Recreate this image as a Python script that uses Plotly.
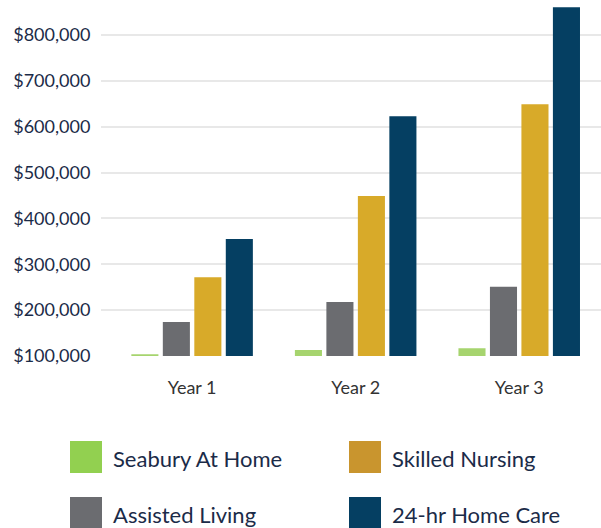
import plotly.graph_objects as go

categories = ["Year 1", "Year 2", "Year 3"]
series_names = ["Seabury At Home", "Assisted Living", "Skilled Nursing", "24-hr Home Care"]
seabury = [104000, 113000, 117000]
assisted = [174000, 218000, 251000]
skilled = [272000, 449000, 649000]
home_care = [355000, 623000, 861000]
series_values = [seabury, assisted, skilled, home_care]
bar_colors = ["#a6d46e", "#6b6c70", "#d8aa29", "#053f62"]
legend_colors = ["#92d050", "#6b6c70", "#c9952e", "#053f62"]

W, H = 601, 528
PL, PR, PT, PB = 101, 601, 3, 356  # plot area in px

fig = go.Figure()
for name, vals, col in zip(series_names, series_values, bar_colors):
    fig.add_trace(go.Bar(x=categories, y=vals, name=name, marker_color=col,
                         marker_line_width=0, showlegend=False))

def px_x(x):
    return (x - PL) / (PR - PL)

def px_y(y):
    return (PB - y) / (PB - PT)

shapes = []
annotations = []
col_x = [70, 349]
row_y = [441, 497]
for i, (name, col) in enumerate(zip(series_names, legend_colors)):
    c, r = i // 2, i % 2
    x0, y0 = col_x[c], row_y[r]
    shapes.append(dict(type="rect", xref="paper", yref="paper",
                       x0=px_x(x0), x1=px_x(x0 + 32), y0=px_y(y0), y1=px_y(y0 + 32),
                       fillcolor=col, line_width=0, layer="above"))
    annotations.append(dict(xref="paper", yref="paper", x=px_x(x0 + 41), y=px_y(y0 + 17),
                            text=name, showarrow=False, xanchor="left", yanchor="middle",
                            font=dict(family="Lato", size=22, color="#1b2b48")))

fig.update_layout(
    width=W, height=H,
    margin=dict(l=PL, r=W - PR, t=PT, b=H - PB, pad=0),
    paper_bgcolor="white", plot_bgcolor="white",
    barmode="group", bargap=0.23, bargroupgap=0.14,
    font=dict(family="Lato", size=18, color="#1b2b48"),
    shapes=shapes, annotations=annotations,
    xaxis=dict(type="category", range=[-0.557, 2.5], showgrid=False, showline=False,
               ticks="outside", ticklen=15, tickcolor="rgba(0,0,0,0)",
               tickfont=dict(family="Lato", size=18, color="#333333")),
    yaxis=dict(range=[100000, 870000], tickvals=[100000, 200000, 300000, 400000, 500000, 600000, 700000, 800000],
               tickformat="$,.0f", showgrid=True, gridcolor="#e8e8e8", gridwidth=1.5,
               zeroline=False, showline=False, ticks="outside", ticklen=6,
               tickcolor="rgba(0,0,0,0)", tickfont=dict(family="Lato", size=18, color="#1b2b48")),
)

fig.write_html("out.html", config={"displayModeBar": False},
               post_script="document.body.style.margin='0';document.body.style.overflow='hidden';")
